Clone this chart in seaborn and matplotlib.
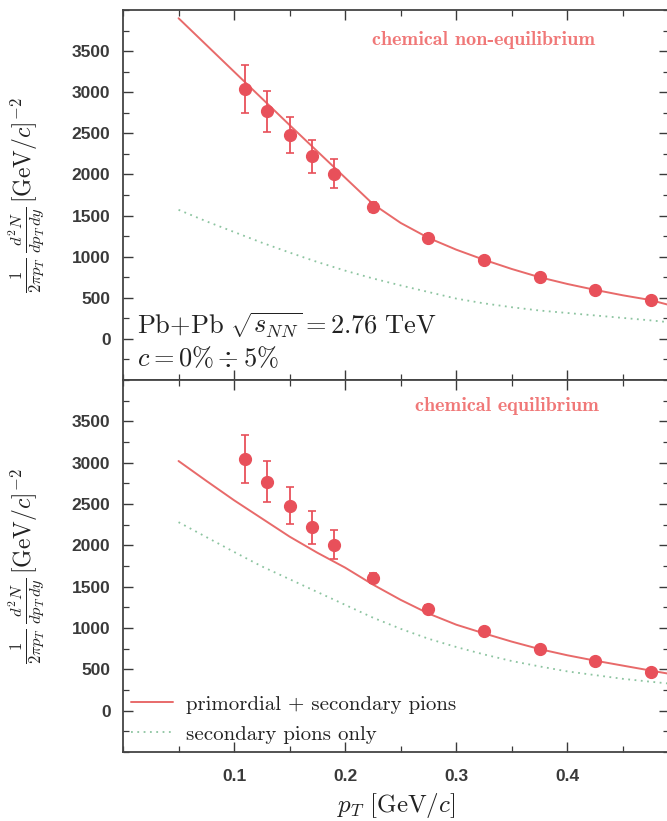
import numpy as np
import pandas as pd
import matplotlib
matplotlib.use("Agg")
import matplotlib.pyplot as plt
import seaborn as sns
from matplotlib.ticker import MultipleLocator

# ---------------- data ----------------
pt_data = [0.11, 0.13, 0.15, 0.17, 0.19, 0.225, 0.275, 0.325, 0.375, 0.425, 0.475]
yield_data = [3040, 2770, 2480, 2220, 2010, 1600, 1230, 960, 750, 600, 470]
yield_err = [290, 250, 220, 200, 180, 60, 50, 40, 30, 30, 30]

pt_curve = [0.05, 0.075, 0.10, 0.125, 0.15, 0.175, 0.20, 0.225, 0.25, 0.275,
            0.30, 0.325, 0.35, 0.375, 0.40, 0.425, 0.45, 0.475, 0.49]
noneq_total = [3900, 3575, 3250, 2925, 2600, 2280, 1960, 1640, 1410, 1228,
               1085, 962, 850, 750, 668, 596, 530, 472, 418]
noneq_secondary = [1570, 1430, 1300, 1170, 1050, 935, 830, 735, 650, 570,
                   490, 432, 385, 345, 315, 285, 255, 225, 205]
eq_total = [3020, 2780, 2545, 2325, 2105, 1910, 1730, 1525, 1340, 1175,
            1040, 935, 835, 745, 670, 605, 545, 485, 450]
eq_secondary = [2280, 2100, 1920, 1745, 1590, 1435, 1280, 1125, 990, 870,
                770, 680, 600, 535, 475, 430, 385, 350, 330]

panel_titles = ["chemical non-equilibrium", "chemical equilibrium"]
legend_labels = ["primordial + secondary pions", "secondary pions only"]
xtick_vals = [0.1, 0.2, 0.3, 0.4]
ytick_vals = [0, 500, 1000, 1500, 2000, 2500, 3000, 3500]

# ---------------- style ----------------
sns.set_theme(style="white")
plt.rcParams["font.family"] = ["Liberation Sans", "DejaVu Sans"]
plt.rcParams["mathtext.fontset"] = "cm"

RED = "#e8505a"
LINE_RED = "#e86a6a"
GREEN = "#8cc4a0"
TICK_COL = "#3a3a3a"
TXT = "#222222"

fig = plt.figure(figsize=(6.67, 8.21), dpi=100)
W, H = 667, 821
left = 123 / W
width = 1.0 - left + 0.003
ax1 = fig.add_axes([left, 1 - 380 / H, width, 370 / H])
ax2 = fig.add_axes([left, 1 - 752 / H, width, 372 / H])

panels = [
    (ax1, noneq_total, noneq_secondary, panel_titles[0], 0.66, 0.918),
    (ax2, eq_total, eq_secondary, panel_titles[1], 0.703, 0.93),
]

for ax, tot, sec, title, tx, ty in panels:
    d = pd.DataFrame({"pt": pt_curve, "tot": tot, "sec": sec})
    sns.lineplot(data=d, x="pt", y="tot", ax=ax, color=LINE_RED, lw=1.4,
                 label=legend_labels[0])
    sns.lineplot(data=d, x="pt", y="sec", ax=ax, color=GREEN, lw=1.3,
                 linestyle=(0, (1, 2.5)), label=legend_labels[1])
    ax.errorbar(pt_data, yield_data, yerr=yield_err, fmt="o", color=RED,
                ms=8.5, elinewidth=1.3, capsize=3, capthick=1.2, zorder=5)
    ax.set_xlim(0.0, 0.4915)
    ax.set_ylim(-500, 4000)
    ax.xaxis.set_minor_locator(MultipleLocator(0.05))
    ax.yaxis.set_minor_locator(MultipleLocator(250))
    ax.set_xticks(xtick_vals)
    ax.set_yticks(ytick_vals)
    ax.tick_params(which="both", direction="in", top=True, right=True,
                   bottom=True, left=True, colors=TICK_COL)
    ax.tick_params(which="major", length=7, width=1.0)
    ax.tick_params(which="minor", length=4, width=0.9)
    ax.tick_params(axis="y", labelsize=12.5, pad=9)
    ax.tick_params(axis="x", labelsize=12.5, pad=12)
    for lab in ax.get_yticklabels() + ax.get_xticklabels():
        lab.set_fontweight("bold")
        lab.set_color(TICK_COL)
    for s in ax.spines.values():
        s.set_color("#444444")
        s.set_linewidth(1.3)
    ax.set_ylabel(r"$\frac{1}{2\pi p_T}\,\frac{d^2N}{dp_T\,dy}\,[\mathrm{GeV}/c]^{-2}$",
                  fontsize=17, color=TXT)
    ax.yaxis.set_label_coords(-0.14, 0.5)
    ax.text(tx, ty, title, transform=ax.transAxes,
            ha="center", va="center", fontsize=14.5, fontfamily="cmb10",
            color="#f07878")

ax1.set_xticklabels([])
ax1.set_xlabel("")
ax1.get_legend().remove()

ax1.text(0.026, 0.148, r"$\mathrm{Pb{+}Pb}\ \sqrt{s_{NN}} = \mathrm{2.76\ TeV}$",
         transform=ax1.transAxes, fontsize=19, color=TXT, ha="left", va="center")
ax1.text(0.026, 0.058, r"$c = \mathrm{0\%} \div \mathrm{5\%}$",
         transform=ax1.transAxes, fontsize=19, color=TXT, ha="left", va="center")

ax2.set_xlabel(r"$p_T\ [\mathrm{GeV}/c]$", fontsize=18, color=TXT)
ax2.xaxis.set_label_coords(0.5, -0.105)
leg = ax2.legend(loc="lower left", frameon=False,
                 handlelength=2.0, handletextpad=0.6, borderaxespad=0.25,
                 borderpad=0.15, labelspacing=0.55,
                 prop={"family": "cmr10", "size": 15})
for t in leg.get_texts():
    t.set_color(TXT)

fig.savefig("out.png", dpi=100)
